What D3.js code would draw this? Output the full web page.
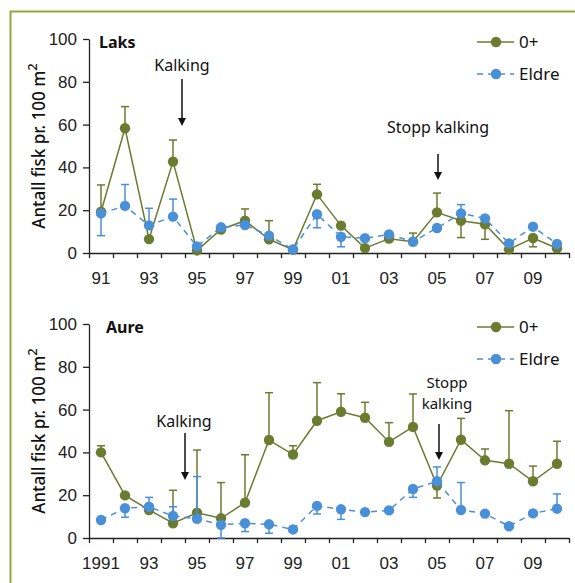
<!DOCTYPE html>
<html>
<head>
<meta charset="utf-8">
<script src="https://cdn.jsdelivr.net/npm/d3@7"></script>
<style>
  body { margin: 0; background: #fff; }
  svg { display: block; font-family: "Noto Sans", sans-serif; }
</style>
</head>
<body>
<script>
// categories (one per year)
var years = [1991, 1992, 1993, 1994, 1995, 1996, 1997, 1998, 1999, 2000,
             2001, 2002, 2003, 2004, 2005, 2006, 2007, 2008, 2009, 2010]
var labelYears = [1991, 1993, 1995, 1997, 1999, 2001, 2003, 2005, 2007, 2009]
var laksTickLabels = ["91", "93", "95", "97", "99", "01", "03", "05", "07", "09"]
var aureTickLabels = ["1991", "93", "95", "97", "99", "01", "03", "05", "07", "09"]
var yTicks = [0, 20, 40, 60, 80, 100]

// Laks
var laksYngel    = [19.3, 58.3, 6.5, 42.7, 1.2, 11, 15.1, 6.4, 1.5, 27.4, 12.8, 2.3, 6.7, 5.3, 19, 15.1, 13.4, 1.7, 7, 2.2]
var laksYngelErr = [31.8, 68.4, null, 52.8, null, null, 20.6, 15.1, null, 32.1, null, null, null, 9.3, 28, 7.2, 6.4, null, 2.9, null]
var laksEldre    = [18.5, 22, 12.9, 17, 3.1, 12, 13.1, 8.1, 1.7, 18.1, 7.6, 6.9, 8.7, 5.3, 11.7, 18.5, 16.2, 4.5, 12.3, 4.2]
var laksEldreErr = [8.1, 32, 20.9, 25.2, null, null, null, null, null, 11.8, 2.9, null, null, null, null, 22.6, null, null, null, null]

// Aure
var aureYngel    = [40, 19.9, 13.1, 6.9, 11.8, 9.2, 16.5, 45.8, 39, 54.8, 59, 56.2, 44.9, 51.9, 24.5, 45.9, 36.3, 34.7, 26.5, 34.7]
var aureYngelErr = [43.1, null, null, 22.3, 41.1, 25.9, 38.9, 67.9, 43.1, 72.6, 67.4, 63.4, 53.9, 67.3, 18.7, 55.9, 41.6, 59.5, 33.6, 45.2]
var aureEldre    = [8.4, 13.9, 14.6, 10.3, 9, 6.2, 6.9, 6.4, 4, 15, 13.4, 12.1, 12.9, 22.9, 26.5, 13.1, 11.4, 5.5, 11.5, 13.7]
var aureEldreErr = [null, 9.7, 19, 14.6, 28.7, 0, 3, 2.2, null, 11.2, 8.7, null, null, 19, 33.2, 25.9, null, null, null, 20.6]

var green = "#6b7b2f"
var blue = "#4a90d8"
var frame = "#93a83c"

var svg = d3.select("body").append("svg")
  .attr("width", 575)
  .attr("height", 583)

svg.append("path")
  .attr("d", "M10.5,590 L10.5,11.5 L580,11.5")
  .attr("fill", "none")
  .attr("stroke", frame)
  .attr("stroke-width", 2)

var x = d3.scaleBand().domain(years).range([89, 569]).padding(0)
var xEdge = d3.scaleLinear().domain([0, years.length]).range([89, 569])

function panel(opt) {
  var y = d3.scaleLinear().domain([0, 100]).range([opt.bottom, opt.bottom - 214])
  var g = svg.append("g")

  // y axis
  var ya = g.append("g")
    .attr("transform", "translate(89,0)")
    .call(d3.axisLeft(y).tickValues(yTicks).tickSize(6).tickPadding(6).tickSizeOuter(0))
  ya.selectAll("text").style("font-size", "17px").attr("fill", "#222")

  // x axis edge ticks
  g.append("g")
    .attr("transform", "translate(0," + opt.bottom + ")")
    .call(d3.axisBottom(xEdge).tickValues(d3.range(years.length + 1)).tickFormat("").tickSize(5).tickSizeOuter(0))

  // x labels (band scale centres its ticks already)
  var xl = g.append("g")
    .attr("transform", "translate(0," + opt.bottom + ")")
    .call(d3.axisBottom(x).tickValues(labelYears)
      .tickFormat(function(d, i) { return opt.tickLabels[i] })
      .tickSize(0).tickPadding(19))
  xl.select(".domain").remove()
  xl.selectAll("text").style("font-size", "17px").attr("fill", "#222")

  g.selectAll(".domain, .tick line").attr("stroke", "#222").attr("stroke-width", 1.3)

  // y title
  var t = g.append("text")
    .attr("transform", "translate(45," + (opt.bottom - 107) + ") rotate(-90)")
    .attr("text-anchor", "middle")
    .style("font-size", "18px")
    .style("font-weight", 500)
    .attr("fill", "#111")
  t.append("tspan").attr("textLength", 158).attr("lengthAdjust", "spacingAndGlyphs").text("Antall fisk pr. 100 m")
  t.append("tspan").attr("dy", -8).style("font-size", "13px").text("2")

  g.append("text")
    .attr("x", opt.titleX).attr("y", opt.bottom - 205)
    .style("font-size", "16px").style("font-weight", "bold")
    .attr("fill", "#111")
    .text(opt.title)

  function series(vals, errs, color, dash) {
    var cx = function(i) { return x(years[i]) + x.bandwidth() / 2 }
    var eg = g.append("g").attr("stroke", color).attr("stroke-width", 1.5)
    vals.forEach(function(v, i) {
      if (errs[i] == null) return
      eg.append("line").attr("x1", cx(i)).attr("x2", cx(i)).attr("y1", y(v)).attr("y2", y(errs[i]))
      eg.append("line").attr("x1", cx(i) - 4).attr("x2", cx(i) + 4).attr("y1", y(errs[i])).attr("y2", y(errs[i]))
    })
    g.append("path")
      .attr("d", d3.line().x(function(d, i) { return cx(i) }).y(function(d) { return y(d) })(vals))
      .attr("fill", "none")
      .attr("stroke", color)
      .attr("stroke-width", 1.5)
      .attr("stroke-dasharray", dash)
    g.selectAll(null).data(vals).enter().append("circle")
      .attr("cx", function(d, i) { return cx(i) })
      .attr("cy", function(d) { return y(d) })
      .attr("r", 5.2)
      .attr("fill", color)
  }
  series(opt.yngel, opt.yngelErr, green, null)
  series(opt.eldre, opt.eldreErr, blue, "6,5")

  // legend
  var leg = [["0+", green, null], ["Eldre", blue, "6,5"]]
  leg.forEach(function(l, i) {
    var ly = opt.bottom - 211 + i * 32
    g.append("line").attr("x1", 477).attr("x2", 514).attr("y1", ly).attr("y2", ly)
      .attr("stroke", l[1]).attr("stroke-width", 1.5).attr("stroke-dasharray", l[2])
    g.append("circle").attr("cx", 496).attr("cy", ly).attr("r", 5.2).attr("fill", l[1])
    g.append("text").attr("x", 519).attr("y", ly).attr("dy", "0.35em")
      .style("font-size", "17px").attr("fill", "#111").text(l[0])
  })

  // annotations, one text per line
  opt.notes.forEach(function(n) {
    n.lines.forEach(function(s, k) {
      g.append("text").attr("text-anchor", "middle")
        .style("font-size", n.size + "px").attr("fill", "#111")
        .attr("x", n.tx).attr("y", n.ty + k * 21).attr("dy", "0.35em").text(s)
    })
    g.append("line").attr("x1", n.x).attr("x2", n.x).attr("y1", n.y1).attr("y2", n.y2 - 7)
      .attr("stroke", "#111").attr("stroke-width", 1.5)
    g.append("path")
      .attr("d", "M" + (n.x - 4) + "," + (n.y2 - 8) + "L" + (n.x + 4) + "," + (n.y2 - 8) + "L" + n.x + "," + n.y2 + "Z")
      .attr("fill", "#111")
  })
}

panel({
  bottom: 253, title: "Laks", titleX: 99, tickLabels: laksTickLabels,
  yngel: laksYngel, yngelErr: laksYngelErr, eldre: laksEldre, eldreErr: laksEldreErr,
  notes: [
    { x: 182, tx: 182, size: 16, lines: ["Kalking"], ty: 65, y1: 79, y2: 126 },
    { x: 438, tx: 438, size: 16, lines: ["Stopp kalking"], ty: 127, y1: 154, y2: 180 }
  ]
})

panel({
  bottom: 538, title: "Aure", titleX: 106, tickLabels: aureTickLabels,
  yngel: aureYngel, yngelErr: aureYngelErr, eldre: aureEldre, eldreErr: aureEldreErr,
  notes: [
    { x: 185, tx: 184, size: 16, lines: ["Kalking"], ty: 421, y1: 433, y2: 480 },
    { x: 439, tx: 447, size: 15, lines: ["Stopp", "kalking"], ty: 383, y1: 424, y2: 460 }
  ]
})
</script>
</body>
</html>
